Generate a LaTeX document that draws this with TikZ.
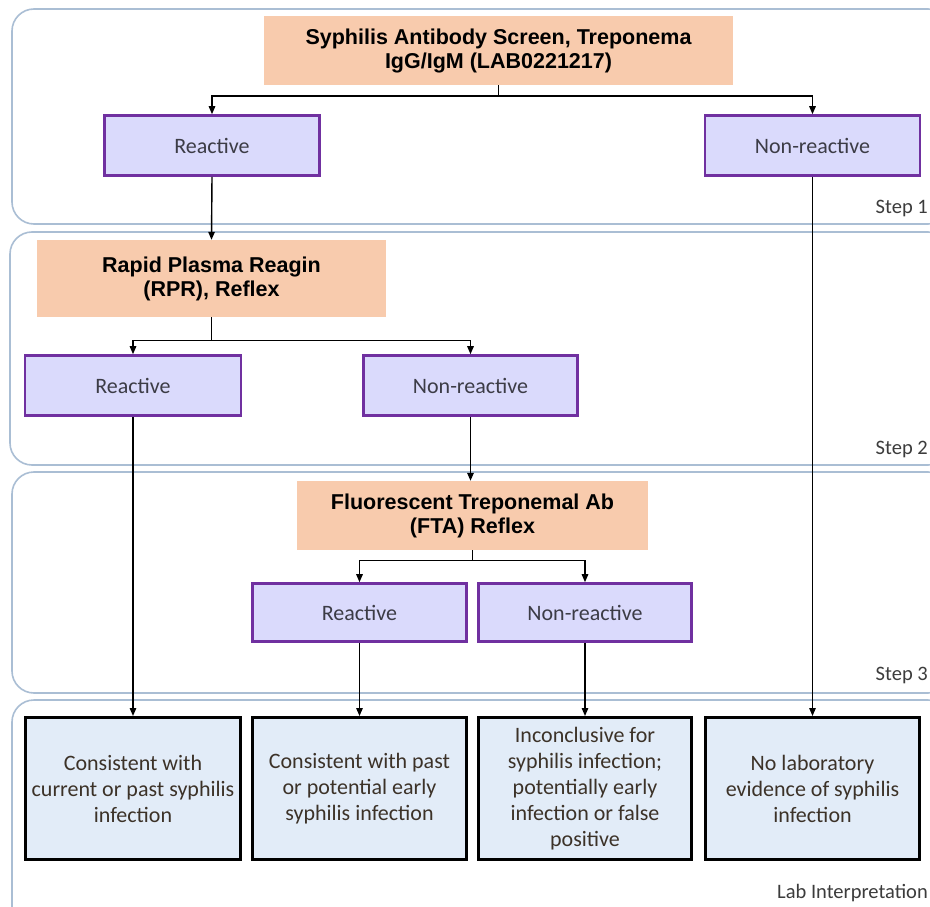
\documentclass[tikz,border=0pt]{standalone}
\usepackage{fontspec}
\setmainfont{Carlito}
\newfontfamily\headfont{Liberation Sans}
\usetikzlibrary{arrows.meta}
\definecolor{panelc}{RGB}{170,190,212}
\definecolor{testfill}{RGB}{248,203,173}
\definecolor{resfill}{RGB}{218,218,252}
\definecolor{resdraw}{RGB}{112,48,160}
\definecolor{outfill}{RGB}{226,236,248}
\tikzset{
  x=1pt,y=-1pt,
  panel/.style={draw=panelc,line width=1.6pt,rounded corners=22pt},
  testbox/.style={fill=testfill,draw=none,font=\headfont\bfseries\fontsize{21.5}{24}\selectfont,align=center,inner sep=0pt},
  resbox/.style={fill=resfill,draw=resdraw,line width=2.6pt,font=\fontsize{22}{24}\selectfont\color[RGB]{60,60,70},inner sep=0pt},
  outbox/.style={fill=outfill,draw=black,line width=3pt,font=\fontsize{22}{26}\selectfont\color[RGB]{60,50,40},align=center,inner sep=0pt},
  steplabel/.style={font=\fontsize{20.5}{22}\selectfont\color[RGB]{60,60,60},anchor=east,inner sep=0pt},
  conn/.style={line width=1.4pt},
  arr/.style={line width=1.4pt,-{Triangle[length=8pt,width=6.5pt]}}
}
\begin{document}
\begin{tikzpicture}
\useasboundingbox (0,0) rectangle (930,907);
\clip (0,0) rectangle (930,907);
\fill[white] (0,0) rectangle (930,907);
% panels
\draw[panel] (12,9) rectangle (950,224);
\draw[panel] (10,232) rectangle (950,465);
\draw[panel] (12,472) rectangle (950,693);
\draw[panel] (12,700) rectangle (950,930);
% step labels
\node[steplabel] (s1) at (928,208) {Step 1};
\node[steplabel] (s2) at (928,449) {Step 2};
\node[steplabel] (s3) at (928,675) {Step 3};
\node[steplabel] (s4) at (928,893) {Lab Interpretation};
% step 1
\node[testbox,minimum width=469pt,minimum height=69pt] (t1) at (498.5,50.5) {Syphilis Antibody Screen, Treponema\\IgG/IgM (LAB0221217)};
\node[resbox,minimum width=215pt,minimum height=60pt] (r1) at (212,145.5) {Reactive};
\node[resbox,minimum width=215pt,minimum height=60pt] (n1) at (812.5,145.5) {Non-reactive};
% step 2
\node[testbox,minimum width=349pt,minimum height=77pt] (t2) at (211.5,278.5) {Rapid Plasma Reagin\\(RPR), Reflex};
\node[resbox,minimum width=216pt,minimum height=60pt] (r2) at (133,385.5) {Reactive};
\node[resbox,minimum width=214pt,minimum height=60pt] (n2) at (470.5,385.5) {Non-reactive};
% step 3
\node[testbox,minimum width=351pt,minimum height=69pt] (t3) at (472.5,515.5) {Fluorescent Treponemal Ab\\(FTA) Reflex};
\node[resbox,minimum width=214pt,minimum height=58pt] (r3) at (359.5,612.5) {Reactive};
\node[resbox,minimum width=213pt,minimum height=58pt] (n3) at (585,612.5) {Non-reactive};
% outcomes
\node[outbox,minimum width=215pt,minimum height=142pt] (o1) at (133,788.5) {Consistent with\\current or past syphilis\\infection};
\node[outbox,minimum width=214pt,minimum height=142pt] (o2) at (359.5,788.5) {Consistent with past\\or potential early\\syphilis infection};
\node[outbox,minimum width=213pt,minimum height=142pt] (o3) at (585,788.5) {Inconclusive for\\syphilis infection;\\potentially early\\infection or false\\positive};
\node[outbox,minimum width=214pt,minimum height=142pt] (o4) at (812.5,788.5) {No laboratory\\evidence of syphilis\\infection};
% connectors step 1
\coordinate (b1) at ([yshift=-11pt]t1.south);
\draw[conn] (t1.south) -- (b1);
\draw[arr] (b1) -| (r1.north);
\draw[arr] (b1) -| (n1.north);
\draw[arr] (r1.south) -- (t2.north);
\draw[arr] (n1.south) -- (o4.north);
% step 2
\coordinate (b2) at ([yshift=-23pt]t2.south);
\draw[conn] (t2.south) -- (b2);
\draw[arr] (b2) -| (r2.north);
\draw[arr] (b2) -| (n2.north);
\draw[arr] (r2.south) -- (o1.north);
\draw[arr] (n2.south) -- (n2.south |- t3.north);
% step 3
\coordinate (b3) at ([yshift=-10pt]t3.south);
\draw[conn] (t3.south) -- (b3);
\draw[arr] (b3) -| (r3.north);
\draw[arr] (b3) -| (n3.north);
\draw[arr] (r3.south) -- (o2.north);
\draw[arr] (n3.south) -- (o3.north);
\end{tikzpicture}
\end{document}
